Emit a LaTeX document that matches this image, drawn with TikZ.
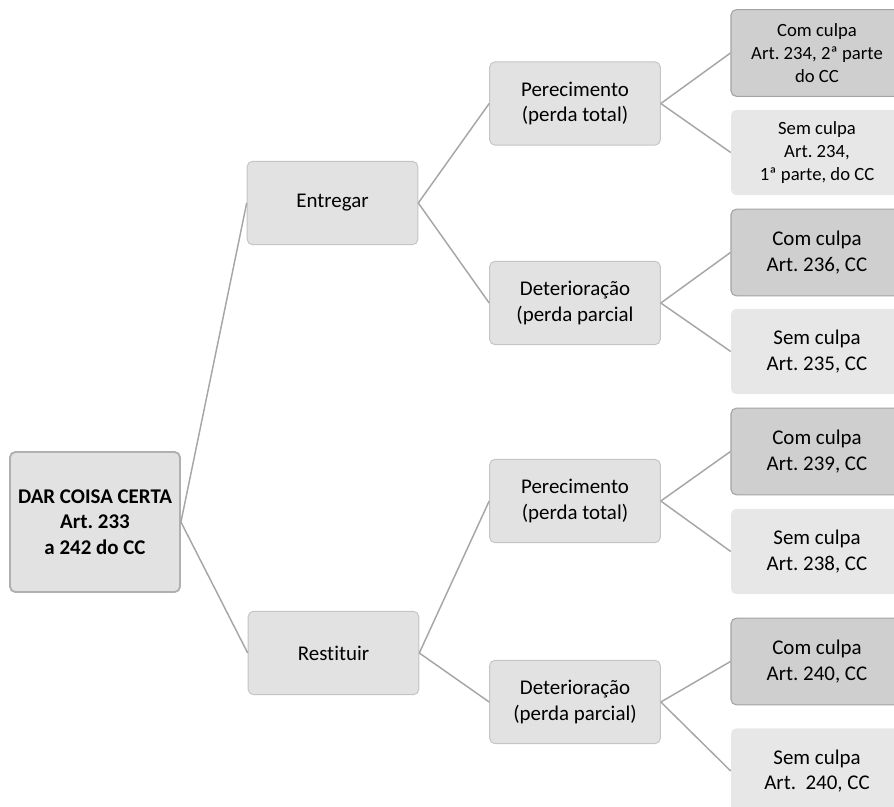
\documentclass[tikz,border=0pt]{standalone}
\usepackage{fontspec}
\setmainfont[Ligatures={NoCommon}]{Carlito}
\frenchspacing
\definecolor{boxfill}{HTML}{E2E2E2}
\definecolor{boxline}{HTML}{C4C4C4}
\definecolor{darkfill}{HTML}{CFCFCF}
\definecolor{darkline}{HTML}{A3A3A3}
\definecolor{lightfill}{HTML}{E7E7E7}
\definecolor{conn}{HTML}{A6A6A6}
\tikzset{
  base/.style={rounded corners=4pt, align=center, inner sep=2pt,
    font=\fontsize{15.7}{19}\selectfont, text=black},
  rootbox/.style={base, fill=boxfill, draw=boxline!90!black, line width=1.4pt,
    minimum width=127.5pt, minimum height=105pt, font=\fontsize{15.7}{19.3}\selectfont\bfseries},
  midbox/.style={base, fill=boxfill, draw=boxline, line width=0.7pt,
    minimum width=128pt, minimum height=62.5pt},
  combox/.style={base, fill=darkfill, draw=darkline, line width=0.8pt,
    minimum width=129pt, minimum height=65pt},
  sembox/.style={base, fill=lightfill, draw=none,
    minimum width=129pt, minimum height=64pt},
  small/.style={font=\fontsize{14}{17}\selectfont},
  link/.style={draw=conn, line width=1.1pt}
}
\begin{document}
\begin{tikzpicture}[x=0.75pt, y=-0.75pt]
\useasboundingbox (0,0) rectangle (894,807);
\clip (0,0) rectangle (894,807);
\node[rootbox] (root) at (95,522) {DAR COISA CERTA\\Art. 233\\a 242 do CC};
\node[midbox] (ent) at (332.5,203) {Entregar};
\node[midbox] (res) at (333.5,653) {Restituir};
\node[midbox] (per1) at (575,103.5) {Perecimento\\(perda total)};
\node[midbox] (det1) at (575,303) {Deterioração\\(perda parcial};
\node[midbox] (per2) at (575,501) {Perecimento\\(perda total)};
\node[midbox] (det2) at (575,702) {Deterioração\\(perda parcial)};
\node[combox, small] (c1) at (817,53) {Com culpa\\Art. 234, 2ª parte\\do CC};
\node[sembox, small] (s1) at (817,152.5) {Sem culpa\\Art. 234,\\1ª parte, do CC};
\node[combox] (c2) at (817,252.5) {Com culpa\\Art. 236, CC};
\node[sembox] (s2) at (817,351.5) {Sem culpa\\Art. 235, CC};
\node[combox] (c3) at (817,451.5) {Com culpa\\Art. 239, CC};
\node[sembox] (s3) at (817,551.5) {Sem culpa\\Art. 238, CC};
\node[combox] (c4) at (817,661.5) {Com culpa\\Art. 240, CC};
\node[sembox] (s4) at (817,771) {Sem culpa\\Art.\ \ 240, CC};
\draw[link] (root.east) -- (ent.west);
\draw[link] (root.east) -- (res.west);
\draw[link] (ent.east) -- (per1.west);
\draw[link] (ent.east) -- (det1.west);
\draw[link] (res.east) -- (per2.west);
\draw[link] (res.east) -- (det2.west);
\draw[link] (per1.east) -- (c1.west);
\draw[link] (per1.east) -- (s1.west);
\draw[link] (det1.east) -- (c2.west);
\draw[link] (det1.east) -- (s2.west);
\draw[link] (per2.east) -- (c3.west);
\draw[link] (per2.east) -- (s3.west);
\draw[link] (det2.east) -- (c4.west);
\draw[link] (det2.east) -- (s4.west);
\end{tikzpicture}
\end{document}
